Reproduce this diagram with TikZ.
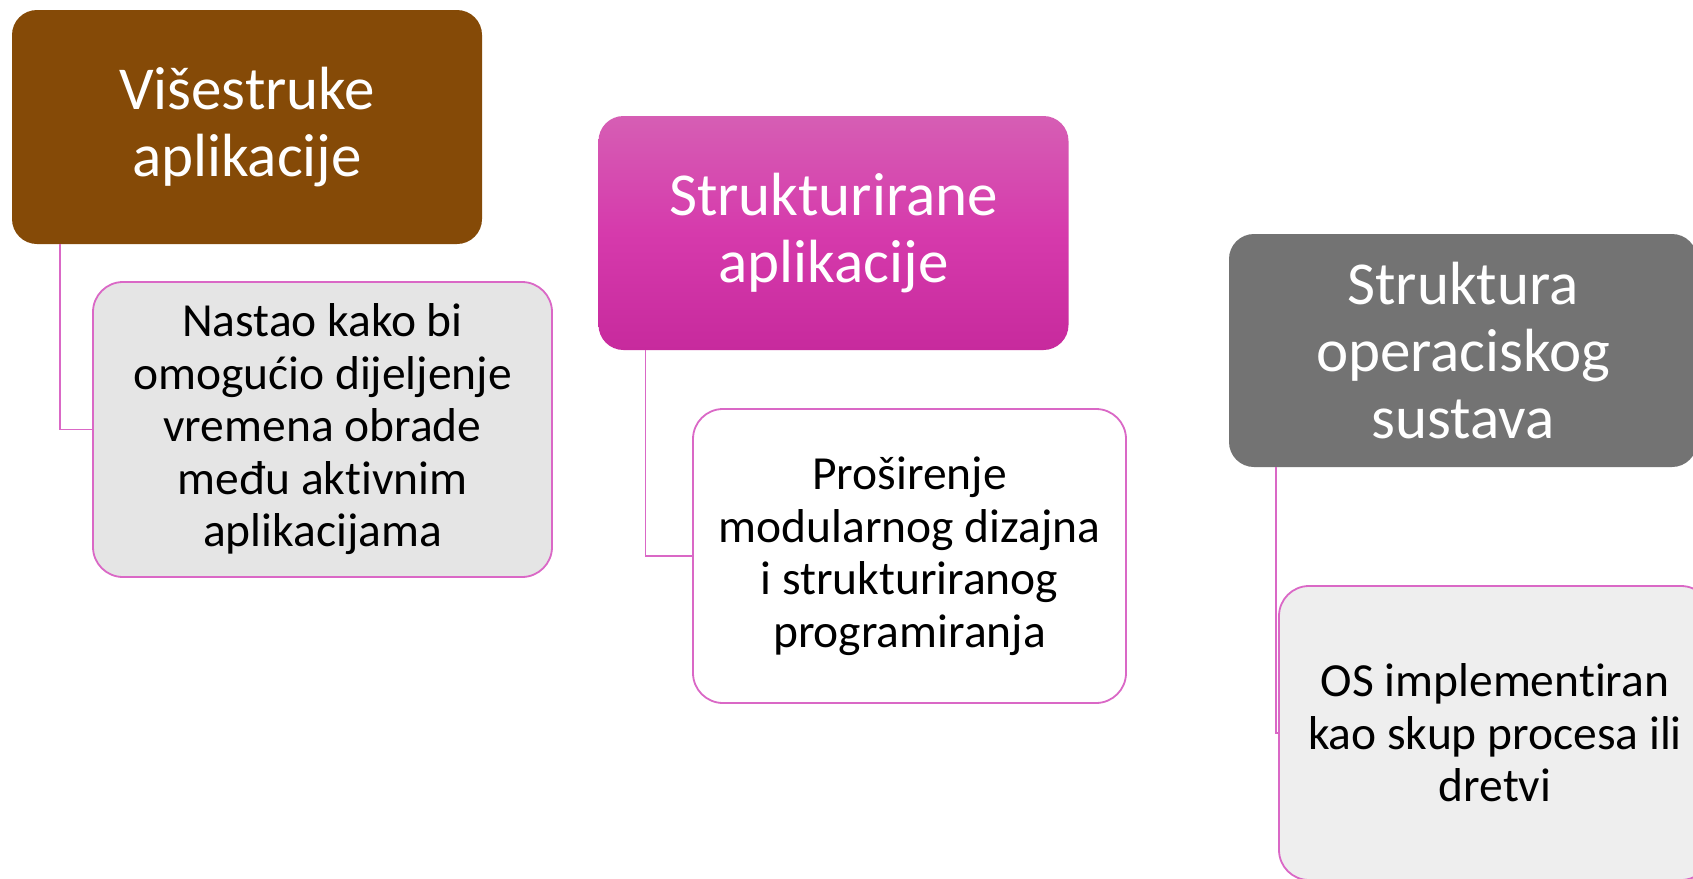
\documentclass[tikz,border=0pt]{standalone}
\usepackage{fontspec}
\setmainfont{Carlito}[Ligatures=NoCommon]
\definecolor{brownc}{RGB}{133,74,7}
\definecolor{pinktop}{RGB}{214,94,180}
\definecolor{pinkmid}{RGB}{214,58,172}
\definecolor{pinkbot}{RGB}{199,42,157}
\definecolor{grayc}{RGB}{115,115,115}
\definecolor{linkpink}{RGB}{218,104,198}
\definecolor{leafgA}{RGB}{229,229,229}
\definecolor{leafgC}{RGB}{238,238,238}
\tikzset{
  head/.style={rounded corners=25pt, minimum width=470pt, minimum height=234pt,
    text=white, font=\fontsize{61}{67}\selectfont, align=center, inner sep=0pt},
  leaf/.style={rounded corners=30pt, draw=linkpink, line width=1.8pt, text=black,
    font=\fontsize{47.5}{52.5}\selectfont, align=center, inner sep=0pt},
  link/.style={draw=linkpink, line width=1.5pt}
}
\begin{document}
\begin{tikzpicture}[x=1pt,y=-1pt]
\useasboundingbox (0,0) rectangle (1693,878);
\clip (0,0) rectangle (1693,878);
\fill[white] (0,0) rectangle (1693,878);
% column 1
\node[head, fill=brownc] (h1) at (247,127) {Višestruke\\aplikacije};
\node[leaf, fill=leafgA, minimum width=459pt, minimum height=295pt] (c1) at (322.5,429.5)
  {Nastao kako bi\\omogućio dijeljenje\\vremena obrade\\među aktivnim\\aplikacijama};
\draw[link] ([xshift=48pt]h1.south west) |- (c1.west);
% column 2
\node[head, top color=pinktop, bottom color=pinkbot, middle color=pinkmid] (h2) at (833.5,233) {Strukturirane\\aplikacije};
\node[leaf, fill=white, minimum width=433pt, minimum height=294pt] (c2) at (909.5,556)
  {Proširenje\\modularnog dizajna\\i strukturiranog\\programiranja};
\draw[link] ([xshift=47pt]h2.south west) |- (c2.west);
% column 3
\node[head, fill=grayc, minimum width=468pt, minimum height=233pt] (h3) at (1463,350.5) {Struktura\\operaciskog\\sustava};
\node[leaf, fill=leafgC, minimum width=432pt, minimum height=294pt] (c3) at (1495,733)
  {OS implementiran\\kao skup procesa ili\\dretvi};
\draw[link] ([xshift=47pt]h3.south west) |- (c3.west);
\end{tikzpicture}
\end{document}
